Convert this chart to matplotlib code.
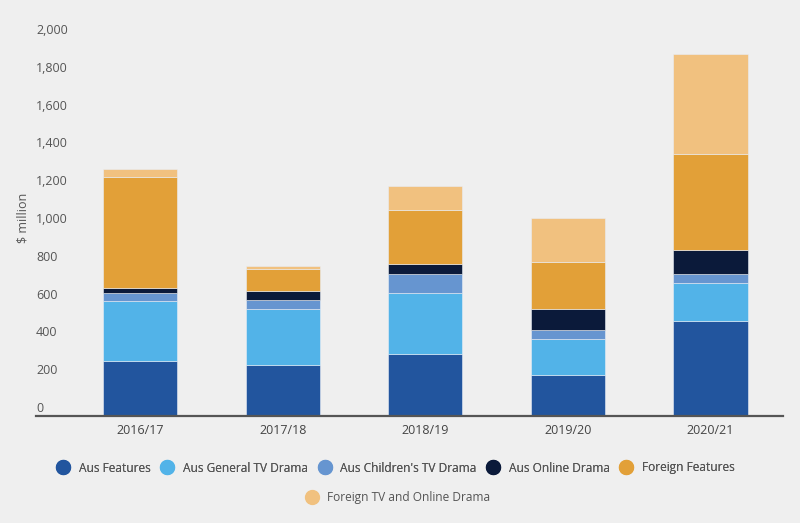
import matplotlib.pyplot as plt
import numpy as np
from matplotlib.lines import Line2D

years = ['2016/17', '2017/18', '2018/19', '2019/20', '2020/21']
aus_features = [245, 220, 280, 168, 455]
aus_general_tv = [316, 298, 323, 192, 201]
aus_childrens_tv = [44, 46, 102, 47, 49]
aus_online = [23, 48, 50, 110, 124]
foreign_features = [589, 120, 287, 249, 510]
foreign_tv_online = [42, 14, 127, 234, 530]

series = [
    ('Aus Features', aus_features, '#22559e'),
    ('Aus General TV Drama', aus_general_tv, '#52b3e8'),
    ("Aus Children's TV Drama", aus_childrens_tv, '#6695d0'),
    ('Aus Online Drama', aus_online, '#0b1a3a'),
    ('Foreign Features', foreign_features, '#e2a038'),
    ('Foreign TV and Online Drama', foreign_tv_online, '#f1c17f'),
]

plt.rcParams['font.family'] = ['Open Sans', 'DejaVu Sans']
bg = '#efefef'

fig = plt.figure(figsize=(8, 5.23), dpi=100, facecolor=bg)
ax = fig.add_axes([0.045, 0.2046, 0.934, 0.7572], facecolor=bg)

ymin, ymax = -47.6, 2047.6
x = np.arange(len(years))
bottom = np.zeros(len(years))
for i, (name, vals, color) in enumerate(series):
    vals = np.array(vals, dtype=float)
    if i == 0:
        # in the source the bars sit on the axis line, slightly below zero
        ax.bar(x, vals - ymin, bottom=ymin, width=0.52, color=color,
               edgecolor='#e8eef5', linewidth=0.4)
    else:
        ax.bar(x, vals, bottom=bottom, width=0.52, color=color,
               edgecolor='#e8eef5', linewidth=0.4)
    bottom += vals

ax.set_xlim(-0.73, 4.51)
ax.set_ylim(ymin, ymax)
ax.set_yticks(range(0, 2001, 200))
ax.set_yticklabels([f'{v:,}' for v in range(0, 2001, 200)])
ax.set_xticks(x)
ax.set_xticklabels(years)

for s in ['top', 'right', 'left']:
    ax.spines[s].set_visible(False)
ax.spines['bottom'].set_color('#555555')
ax.spines['bottom'].set_linewidth(1.6)

ax.tick_params(axis='y', length=0, pad=0, labelsize=9, labelcolor='#555555')
ax.tick_params(axis='x', length=0, pad=6, labelsize=9, labelcolor='#444444')
for lab in ax.get_yticklabels():
    lab.set_horizontalalignment('left')

fig.text(23 / 800, 1 - 218 / 523, '$ million', rotation=90, ha='center',
         va='center', fontsize=9, color='#555555')

handles = [Line2D([], [], marker='o', linestyle='', markersize=10,
                  markerfacecolor=c, markeredgecolor=c) for _, _, c in series]
names = [n for n, _, _ in series]

leg1 = fig.legend(handles[:5], names[:5], ncol=5, loc='center',
                  bbox_to_anchor=(396 / 800, 1 - 468 / 523), frameon=False,
                  fontsize=8.6, labelcolor='#555555', handletextpad=0.8,
                  columnspacing=0.9, handlelength=1.0)
fig.add_artist(leg1)
fig.legend(handles[5:], names[5:], loc='center',
           bbox_to_anchor=(398 / 800, 1 - 498 / 523), frameon=False,
           fontsize=8.6, labelcolor='#555555', handletextpad=0.8,
           handlelength=1.0)

plt.savefig('out.png', dpi=100, facecolor=bg)
